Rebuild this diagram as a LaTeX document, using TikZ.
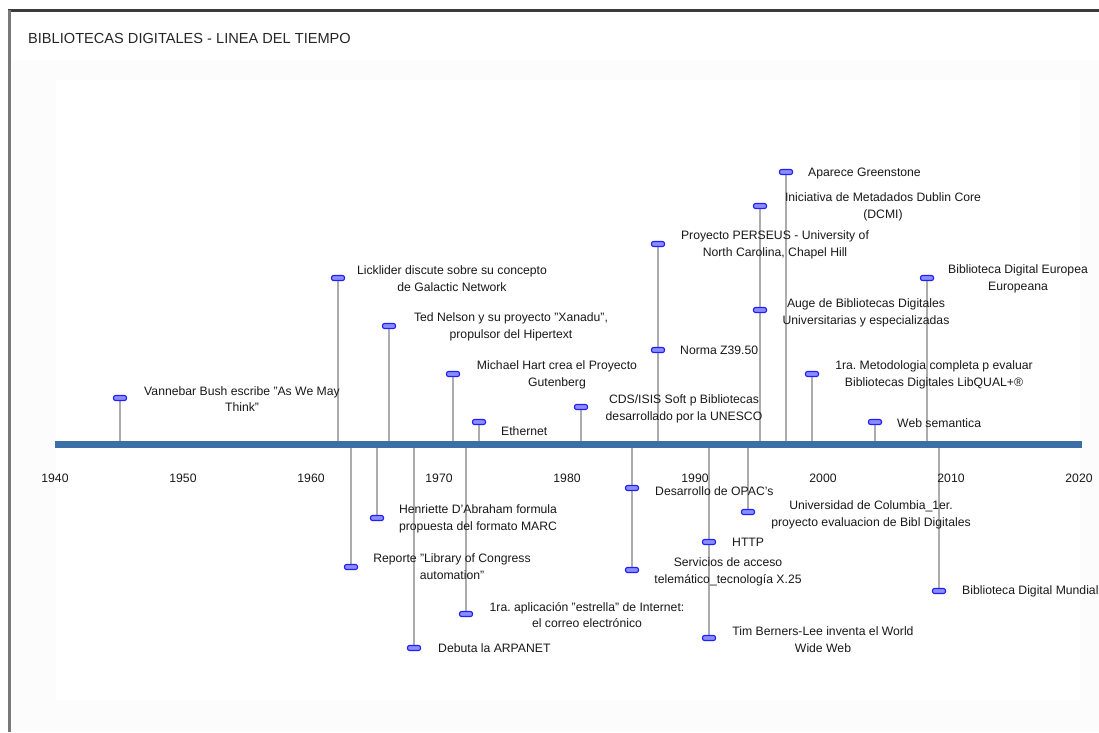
\documentclass[tikz,border=0pt]{standalone}
\usepackage{fontspec}
\setmainfont{Liberation Sans}
\frenchspacing
\definecolor{axisblue}{RGB}{59,111,166}
\definecolor{markline}{RGB}{30,30,255}
\definecolor{markfill}{RGB}{140,140,255}
\definecolor{stemgray}{RGB}{172,172,172}
\definecolor{framedark}{RGB}{58,58,58}
\definecolor{frameleft}{RGB}{120,120,120}
\definecolor{panelgray}{RGB}{252,252,252}
\begin{document}
\begin{tikzpicture}[x=1pt,y=-1pt,
  stem/.style={draw=stemgray,line width=2pt},
  evbox/.style={draw=markline,fill=markfill,line width=1.1pt,rounded corners=2pt,minimum width=13pt,minimum height=5pt,inner sep=0pt},
  lbl/.style={font=\fontsize{12.2}{16.8}\selectfont,align=center,inner sep=0pt,text=black!90},
  lblw/.style={lbl,anchor=west},
  yearlbl/.style={font=\fontsize{12.2}{14}\selectfont,inner sep=0pt,text=black!90},
  ttl/.style={font=\fontsize{14.6}{16}\selectfont,inner sep=0pt,text=black!85,anchor=base west}]
\useasboundingbox (0,0) rectangle (1099,732);
% background panel
\fill[panelgray] (12,60) rectangle (1099,732);
\fill[white] (56,80) rectangle (1080,700);
% frame
\draw[framedark,line width=2.5pt] (8,10.5) -- (1099,10.5);
\draw[frameleft,line width=3pt] (9.5,10) -- (9.5,732);
% title
\node[ttl] (title) at (28,43) {BIBLIOTECAS DIGITALES - LINEA DEL TIEMPO};
% axis anchor points (top side, bottom side)
\foreach \n/\x in {a1945/120,a1962/338,a1966/389,a1971/453,a1973/479,a1981/581,a1987/658,a1995/760,a1997/786,a1999/812,a2004/875,a2008/927}
  \coordinate (\n) at (\x,443);
\foreach \n/\x in {b1963/351,b1965/377,b1968/414,b1972/466,b1985/632,b1991/709,b1994/748,b2009/939}
  \coordinate (\n) at (\x,446);
% marker positions
\coordinate (p1945) at (120,398);
\coordinate (p1962) at (338,278);
\coordinate (p1966) at (389,326);
\coordinate (p1971) at (453,374);
\coordinate (p1973) at (479,422);
\coordinate (p1981) at (581,407);
\coordinate (p1987a) at (658,350);
\coordinate (p1987b) at (658,244);
\coordinate (p1995a) at (760,310);
\coordinate (p1995b) at (760,206);
\coordinate (p1997) at (786,172);
\coordinate (p1999) at (812,374);
\coordinate (p2004) at (875,422);
\coordinate (p2008) at (927,278);
\coordinate (p1963) at (351,567);
\coordinate (p1965) at (377,518);
\coordinate (p1968) at (414,648);
\coordinate (p1972) at (466,614);
\coordinate (p1985a) at (632,488);
\coordinate (p1985b) at (632,570);
\coordinate (p1991a) at (709,542);
\coordinate (p1991b) at (709,638);
\coordinate (p1994) at (748,512);
\coordinate (p2009) at (939,591);
% stems
\draw[stem] (a1945) -- (p1945);
\draw[stem] (a1962) -- (p1962);
\draw[stem] (a1966) -- (p1966);
\draw[stem] (a1971) -- (p1971);
\draw[stem] (a1973) -- (p1973);
\draw[stem] (a1981) -- (p1981);
\draw[stem] (a1987) -- (p1987b);
\draw[stem] (a1995) -- (p1995b);
\draw[stem] (a1997) -- (p1997);
\draw[stem] (a1999) -- (p1999);
\draw[stem] (a2004) -- (p2004);
\draw[stem] (a2008) -- (p2008);
\draw[stem] (b1963) -- (p1963);
\draw[stem] (b1965) -- (p1965);
\draw[stem] (b1968) -- (p1968);
\draw[stem] (b1972) -- (p1972);
\draw[stem] (b1985) -- (p1985b);
\draw[stem] (b1991) -- (p1991b);
\draw[stem] (b1994) -- (p1994);
\draw[stem] (b2009) -- (p2009);
% axis bar
\coordinate (axL) at (55,444.5);
\coordinate (axR) at (1082,444.5);
\draw[axisblue,line width=7pt] (axL) -- (axR);
% years
\foreach \k/\yr in {0/1940,1/1950,2/1960,3/1970,4/1980,5/1990,6/2000,7/2010,8/2020}
  \node[yearlbl] (y\yr) at (55+128*\k,478) {\yr};
% markers
\foreach \p in {p1945,p1962,p1966,p1971,p1973,p1981,p1987a,p1987b,p1995a,p1995b,p1997,p1999,p2004,p2008,p1963,p1965,p1968,p1972,p1985a,p1985b,p1991a,p1991b,p1994,p2009}
  \node[evbox] (m\p) at (\p) {};
% labels above
\node[lbl] (t1945) at (242,399) {Vannebar Bush escribe "As We May\\Think"};
\node[lbl] (t1962) at (452,279) {Licklider discute sobre su concepto\\de Galactic Network};
\node[lbl] (t1966) at (511,327) {Ted Nelson y su proyecto "Xanadu",\\propulsor del Hipertext};
\node[lbl] (t1971) at (557,375) {Michael Hart crea el Proyecto\\Gutenberg};
\node[lblw] (t1973) at (501,431) {Ethernet};
\node[lbl] (t1981) at (684,409) {CDS/ISIS Soft p Bibliotecas\\desarrollado por la UNESCO};
\node[lblw] (t1987a) at (680,350) {Norma Z39.50};
\node[lbl] (t1987b) at (775,245) {Proyecto PERSEUS - University of\\North Carolina, Chapel Hill};
\node[lbl] (t1995b) at (883,207) {Iniciativa de Metadados Dublin Core\\(DCMI)};
\node[lbl] (t1995a) at (866,313) {Auge de Bibliotecas Digitales\\Universitarias y especializadas};
\node[lblw] (t1997) at (808,173) {Aparece Greenstone};
\node[lbl] (t1999) at (934,375) {1ra. Metodologia completa p evaluar\\Bibliotecas Digitales LibQUAL+®};
\node[lblw] (t2004) at (897,423) {Web semantica};
\node[lbl] (t2008) at (1018,279) {Biblioteca Digital Europea\\Europeana};
% labels below
\node[lbl] (t1963) at (452,567) {Reporte "Library of Congress\\automation"};
\node[lbl] (t1965) at (478,519) {Henriette D'Abraham formula\\propuesta del formato MARC};
\node[lblw] (t1968) at (438,648) {Debuta la ARPANET};
\node[lbl] (t1972) at (587,615) {1ra. aplicación "estrella" de Internet:\\el correo electrónico};
\node[lblw] (t1985a) at (655,491) {Desarrollo de OPAC's};
\node[lbl] (t1985b) at (728,572) {Servicios de acceso\\telemático\_tecnología X.25};
\node[lblw] (t1991a) at (732,542) {HTTP};
\node[lbl] (t1991b) at (823,640) {Tim Berners-Lee inventa el World\\Wide Web};
\node[lbl] (t1994) at (871,515) {Universidad de Columbia\_1er.\\proyecto evaluacion de Bibl Digitales};
\node[lblw] (t2009) at (962,591) {Biblioteca Digital Mundial};
\end{tikzpicture}
\end{document}
